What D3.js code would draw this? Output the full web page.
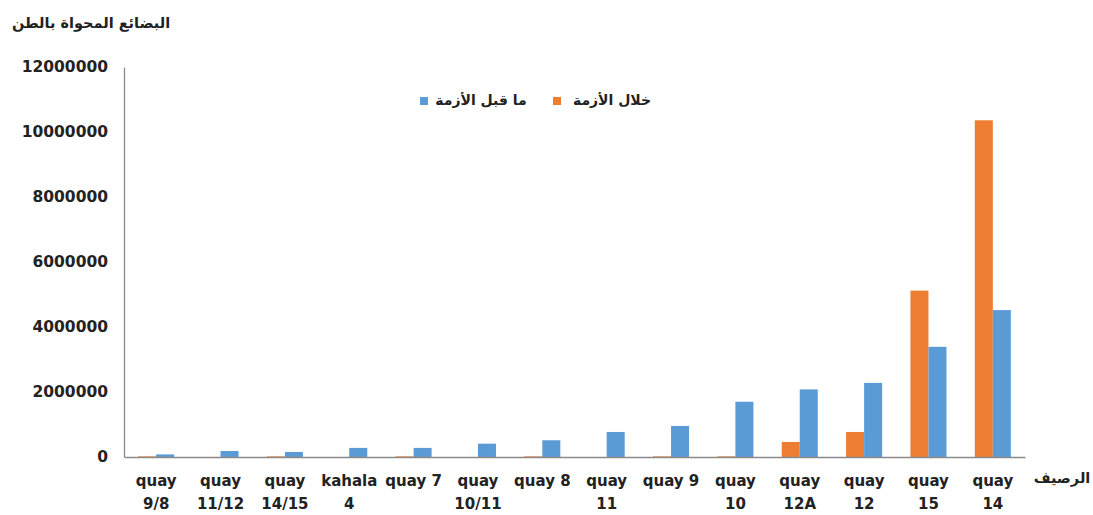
<!DOCTYPE html>
<html>
<head>
<meta charset="utf-8">
<script src="https://cdn.jsdelivr.net/npm/d3@7"></script>
<style>
  html, body { margin: 0; padding: 0; background: #fff; }
  svg { display: block; }
</style>
</head>
<body>
<svg id="chart" width="1093" height="515"></svg>
<script>
// Berths (quays), in display order
const categories = ["quay 9/8", "quay 11/12", "quay 14/15", "kahala 4", "quay 7", "quay 10/11",
  "quay 8", "quay 11", "quay 9", "quay 10", "quay 12A", "quay 12", "quay 15", "quay 14"];
// Two-line tick labels for each berth
const tickLabels = [["quay", "9/8"], ["quay", "11/12"], ["quay", "14/15"], ["kahala", "4"], ["quay 7"],
  ["quay", "10/11"], ["quay 8"], ["quay", "11"], ["quay 9"], ["quay", "10"], ["quay", "12A"],
  ["quay", "12"], ["quay", "15"], ["quay", "14"]];
// Cargo handled (tonnes) during the crisis
const duringCrisis = [20000, 0, 20000, 0, 20000, 0, 20000, 0, 20000, 20000, 463000, 770000, 5120000, 10360000];
// Cargo handled (tonnes) before the crisis
const beforeCrisis = [80000, 185000, 155000, 280000, 280000, 410000, 515000, 770000, 955000, 1700000, 2080000, 2280000, 3390000, 4520000];
const yTicks = [0, 2000000, 4000000, 6000000, 8000000, 10000000, 12000000];

const seriesNames = ["خلال الأزمة", "ما قبل الأزمة"];
const colors = ["#ED7D31", "#5B9BD5"];

const svg = d3.select("#chart");
const plotLeft = 124, plotRight = 1025, plotTop = 67, plotBottom = 457;

const x0 = d3.scaleBand().domain(categories).range([plotLeft, plotRight]).paddingInner(0.44).paddingOuter(0.22);
const x1 = d3.scaleBand().domain([0, 1]).range([0, x0.bandwidth()]);
const y = d3.scaleLinear().domain([0, 12000000]).range([plotBottom, plotTop]);

const rows = categories.map((c, i) => ({ c, vals: [duringCrisis[i], beforeCrisis[i]] }));

// bars
const g = svg.append("g");
rows.forEach(r => {
  r.vals.forEach((v, k) => {
    g.append("rect")
      .attr("x", x0(r.c) + x1(k))
      .attr("y", y(v))
      .attr("width", x1.bandwidth())
      .attr("height", y(0) - y(v))
      .attr("fill", colors[k]);
  });
});

// y axis
const yAxis = d3.axisLeft(y).tickValues(yTicks).tickSize(0).tickPadding(16).tickFormat(d3.format("d"));
const ya = svg.append("g").attr("transform", `translate(${plotLeft},0)`).call(yAxis);
ya.select(".domain").attr("stroke", "#8a8a8a").attr("stroke-width", 1.3);
ya.selectAll("text")
  .attr("font-family", "DejaVu Sans").attr("font-weight", "bold")
  .attr("font-size", 15.5).attr("fill", "#222");

// x axis
const xAxis = d3.axisBottom(x0).tickSize(0).tickFormat("");
const xa = svg.append("g").attr("transform", `translate(0,${plotBottom})`).call(xAxis);
xa.select(".domain").attr("stroke", "#8a8a8a").attr("stroke-width", 1.3);
xa.selectAll(".tick").each(function(d, i) {
  const t = d3.select(this).append("text")
    .attr("text-anchor", "middle")
    .attr("font-family", "DejaVu Sans").attr("font-weight", "bold")
    .attr("font-size", 15).attr("fill", "#222");
  tickLabels[i].forEach((line, j) => {
    t.append("tspan").attr("x", 0).attr("y", 29 + j * 23).text(line);
  });
});

// axis titles
svg.append("text").attr("x", 91).attr("y", 28).attr("text-anchor", "middle")
  .attr("font-family", "DejaVu Sans").attr("font-weight", "bold").attr("font-size", 14.5)
  .attr("fill", "#222").text("البضائع المحواة بالطن");
svg.append("text").attr("x", 1062).attr("y", 483).attr("text-anchor", "middle")
  .attr("font-family", "DejaVu Sans").attr("font-weight", "bold").attr("font-size", 14.5)
  .attr("fill", "#222").text("الرصيف");

// legend
const legend = [
  { name: seriesNames[1], color: colors[1], sx: 420, tx: 481 },
  { name: seriesNames[0], color: colors[0], sx: 553, tx: 612 }
];
legend.forEach(l => {
  svg.append("rect").attr("x", l.sx).attr("y", 97).attr("width", 8).attr("height", 8).attr("fill", l.color);
  svg.append("text").attr("x", l.tx).attr("y", 105).attr("text-anchor", "middle")
    .attr("font-family", "DejaVu Sans").attr("font-weight", "bold").attr("font-size", 14)
    .attr("fill", "#222").text(l.name);
});
</script>
</body>
</html>
